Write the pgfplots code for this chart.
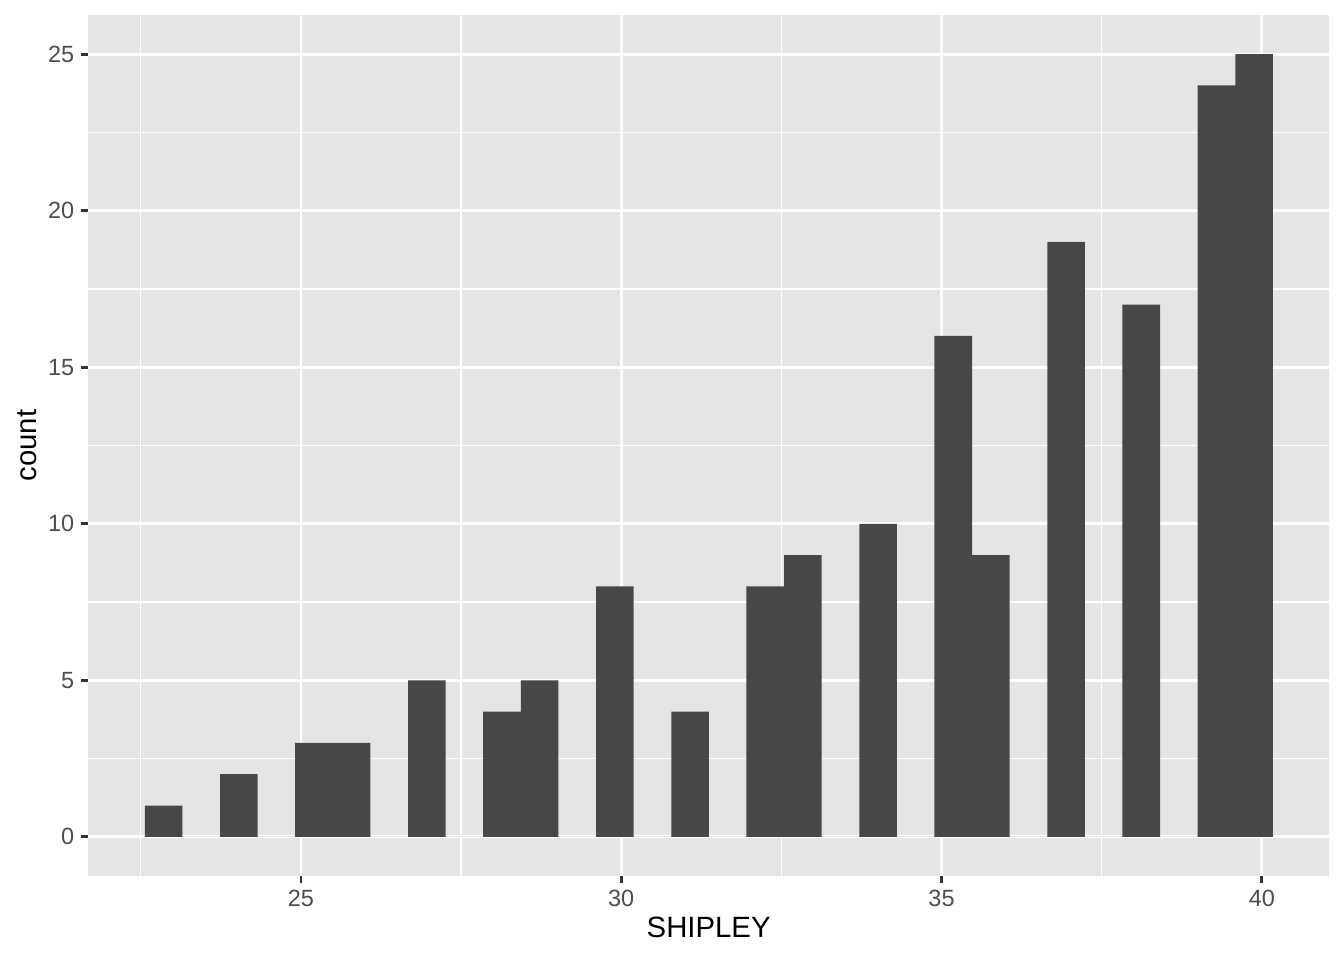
\documentclass[border=0pt]{standalone}
\usepackage{fontspec}
\setmainfont{Liberation Sans}
\usepackage{pgfplots}
\pgfplotsset{compat=1.18}
\definecolor{panelbg}{HTML}{E5E5E5}
\definecolor{barfill}{HTML}{474747}
\definecolor{tickcol}{HTML}{333333}
\definecolor{labcol}{HTML}{4D4D4D}
\begin{document}
\begin{tikzpicture}
% fixed page size: 504pt x 360pt (1344x960 px)
\useasboundingbox (-33.1pt,-31.5pt) rectangle (470.9pt,328.5pt);
\begin{axis}[
  at={(0,0)}, anchor=south west,
  scale only axis,
  width=465.3pt, height=322.9pt,
  xmin=21.68, xmax=41.05,
  ymin=-1.25, ymax=26.25,
  xtick={25,30,35,40},
  ytick={0,5,10,15,20,25},
  minor xtick={22.5,27.5,32.5,37.5},
  minor ytick={2.5,7.5,12.5,17.5,22.5},
  grid=both,
  major grid style={white, line width=1.07pt},
  minor grid style={white, line width=0.53pt},
  axis background/.style={fill=panelbg},
  axis line style={draw=none},
  tick align=outside,
  major tick length=2.75pt,
  minor tick length=0pt,
  tick style={tickcol, line width=1.07pt},
  xtick pos=bottom, ytick pos=left,
  /pgf/number format/assume math mode=true,
  ticklabel style={font=\fontsize{8.8}{10}\selectfont, text=labcol},
  xticklabel shift=-1pt,
  yticklabel shift=-1pt,
  xlabel={SHIPLEY},
  ylabel={count},
  xlabel shift=-3pt,
  ylabel shift=-2.6pt,
  label style={font=\fontsize{11}{13}\selectfont, text=black},
]
\addplot[ybar interval, fill=barfill, draw=none] coordinates {
(22.563,1) (23.150,0) (23.737,2) (24.324,0) (24.911,3) (25.498,3)
(26.085,0) (26.672,5) (27.259,0) (27.846,4) (28.433,5) (29.020,0)
(29.607,8) (30.194,0) (30.781,4) (31.368,0) (31.955,8) (32.542,9)
(33.129,0) (33.716,10) (34.303,0) (34.890,16) (35.477,9) (36.064,0)
(36.651,19) (37.238,0) (37.825,17) (38.412,0) (38.999,24) (39.586,25)
(40.173,0)
};
\end{axis}
\end{tikzpicture}
\end{document}
